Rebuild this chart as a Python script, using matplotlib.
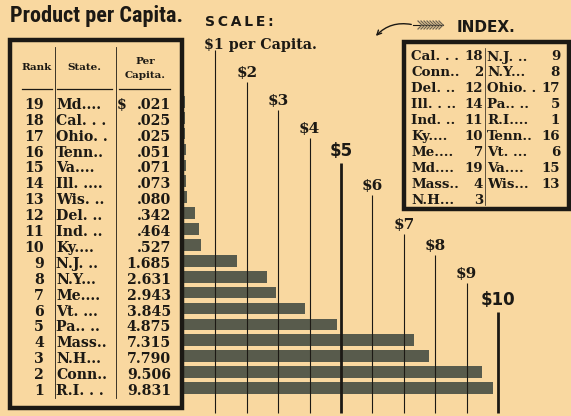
import matplotlib
matplotlib.use("Agg")
import matplotlib.pyplot as plt
import matplotlib.transforms as mtransforms
from matplotlib.patches import Rectangle, FancyArrowPatch

# states in rank order (1 = highest product per capita)
ranks = list(range(1, 20))
states = ["R.I.", "Conn.", "N.H.", "Mass.", "Pa.", "Vt.", "Me.", "N.Y.", "N.J.",
          "Ky.", "Ind.", "Del.", "Wis.", "Ill.", "Va.", "Tenn.", "Ohio.", "Cal.", "Md."]
state_labels = ["R.I. . .", "Conn..", "N.H...", "Mass..", "Pa.. ..", "Vt. ...",
                "Me....", "N.Y...", "N.J. ..", "Ky....", "Ind. ..", "Del. ..",
                "Wis. ..", "Ill. ....", "Va....", "Tenn..", "Ohio. .", "Cal. . .", "Md...."]
per_capita = [9.831, 9.506, 7.790, 7.315, 4.875, 3.845, 2.943, 2.631, 1.685,
              .527, .464, .342, .080, .073, .071, .051, .025, .025, .021]

# alphabetical index, two columns
index_left = ["Cal.", "Conn.", "Del.", "Ill.", "Ind.", "Ky.", "Me.", "Md.", "Mass.", "N.H."]
index_left_labels = ["Cal. . .", "Conn..", "Del. ..", "Ill. . ..", "Ind. ..",
                     "Ky....", "Me....", "Md....", "Mass..", "N.H..."]
index_right = ["N.J.", "N.Y.", "Ohio.", "Pa.", "R.I.", "Tenn.", "Vt.", "Va.", "Wis."]
index_right_labels = ["N.J. ..", "N.Y...", "Ohio. .", "Pa.. ..", "R.I....",
                      "Tenn..", "Vt. ...", "Va....", "Wis..."]

scale_dollars = [1, 2, 3, 4, 5, 6, 7, 8, 9, 10]
scale_tops = [50, 82, 110, 138, 163, 195, 234, 255, 283, 312]  # pixel rows

W, H = 571, 416
BG = "#F9D8A0"
INK = "#1C1914"
BAR = "#585B4C"
SERIF = "DejaVu Serif"
SANS = "DejaVu Sans"
NARROW = ["Liberation Sans Narrow", "Roboto Condensed", "DejaVu Sans"]

fig = plt.figure(figsize=(W / 100, H / 100), dpi=100, facecolor=BG)
ax = fig.add_axes([0, 0, 1, 1])
ax.set_facecolor(BG)
ax.axis("off")

# dollar scale: $0 at x=184px, 31.4px per dollar; rank 1 bar at y=388px, 15.9px per rank
ax.set_xlim(-184 / 31.4, (W - 184) / 31.4)
ax.set_ylim(1 - (H - 388) / 15.9, 1 + 388 / 15.9)

# pixel coordinates measured from the top-left corner
pix = mtransforms.Affine2D().scale(1 / W, -1 / H).translate(0, 1) + fig.transFigure
row = mtransforms.blended_transform_factory(pix, ax.transData)
col = mtransforms.blended_transform_factory(ax.transData, pix)

ax.barh(ranks, per_capita, height=0.74, left=0, color=BAR, zorder=2)

# scale lines with staggered dollar labels
for d, top in zip(scale_dollars, scale_tops):
    heavy = d in (5, 10)
    ax.plot([d, d], [top, 413], transform=col, color=INK,
            lw=2.0 if heavy else 0.8, zorder=3, solid_capstyle="butt")
    if d == 1:
        continue
    if heavy:
        ax.text(d, top - 3, f"${d}", transform=col, ha="center", va="bottom",
                family=SANS, weight="bold", fontsize=12, color=INK)
    else:
        ax.text(d, top - 2, f"${d}", transform=col, ha="center", va="bottom",
                family=SERIF, weight="bold", fontsize=11, color=INK)

ax.text(204, 45, "$1 per Capita.", transform=pix, ha="left", va="center",
        family=SERIF, weight="bold", fontsize=10.3, color=INK)
ax.text(205, 22, "S\u2009C\u2009A\u2009L\u2009E\u2009:", transform=pix, ha="left",
        va="center", family=SANS, weight="bold", fontsize=10, color=INK)
ax.text(10, 16, "Product per Capita.", transform=pix, ha="left", va="center",
        family=NARROW, weight="bold", fontsize=16, color=INK)

# ranking table
ax.add_patch(Rectangle((10, 40), 172, 368, transform=pix, fill=True,
                       facecolor=BG, edgecolor=INK, lw=3.2, zorder=4))
for x in (55, 116):
    ax.plot([x, x], [47, 398], transform=pix, color=INK, lw=0.6, zorder=5)
for x0, x1 in ((22, 52), (57, 112), (119, 170)):
    ax.plot([x0, x1], [89, 89], transform=pix, color=INK, lw=0.9, zorder=5)
hdr = dict(transform=pix, ha="center", va="center", family=SERIF,
           weight="bold", fontsize=7.5, color=INK, zorder=6)
ax.text(37, 68, "Rank", **hdr)
ax.text(84, 68, "State.", **hdr)
ax.text(145, 62, "Per", **hdr)
ax.text(145, 75, "Capita.", **hdr)

body = dict(transform=row, va="center", family=SERIF, weight="bold",
            fontsize=10.2, color=INK, zorder=6)
for r, lab, v in zip(ranks, state_labels, per_capita):
    y = r - 0.19
    ax.text(44, y, str(r), ha="right", **body)
    ax.text(56, y, lab, ha="left", **body)
    txt = f"{v:.3f}"
    if v < 1:
        txt = txt[1:]
    ax.text(171, y, txt, ha="right", **body)
ax.text(117, ranks[-1] - 0.19, "$", ha="left", **body)

# alphabetical index box
rank_of = dict(zip(states, ranks))
ax.add_patch(Rectangle((404, 42), 165, 167, transform=pix, fill=True,
                       facecolor=BG, edgecolor=INK, lw=3.2, zorder=4))
ax.plot([485, 485], [48, 205], transform=pix, color=INK, lw=0.5, zorder=5)
idx = dict(transform=pix, va="center", family=SERIF, weight="bold",
           fontsize=9.6, color=INK, zorder=6)
for i, (s, lab) in enumerate(zip(index_left, index_left_labels)):
    y = 57 + i * 15.9
    ax.text(411, y, lab, ha="left", **idx)
    ax.text(483, y, str(rank_of[s]), ha="right", **idx)
for i, (s, lab) in enumerate(zip(index_right, index_right_labels)):
    y = 57 + i * 15.9
    ax.text(487, y, lab, ha="left", **idx)
    ax.text(560, y, str(rank_of[s]), ha="right", **idx)

ax.text(457, 27, "INDEX.", transform=pix, ha="left", va="center",
        family=SANS, weight="bold", fontsize=11, color=INK)

# feathered arrow pointing down to the index
ax.plot([413, 443], [25, 25], transform=pix, color=INK, lw=0.8)
for k in range(8):
    x = 418 + k * 3
    ax.plot([x, x + 4], [21, 25], transform=pix, color="#6E6452", lw=0.9)
    ax.plot([x, x + 4], [29, 25], transform=pix, color="#6E6452", lw=0.9)
ax.add_patch(FancyArrowPatch((414, 25), (374, 38), transform=pix,
                             connectionstyle="arc3,rad=0.3", arrowstyle="->",
                             mutation_scale=8, color=INK, lw=1.0))

fig.savefig("out.png", dpi=100, facecolor=BG)
